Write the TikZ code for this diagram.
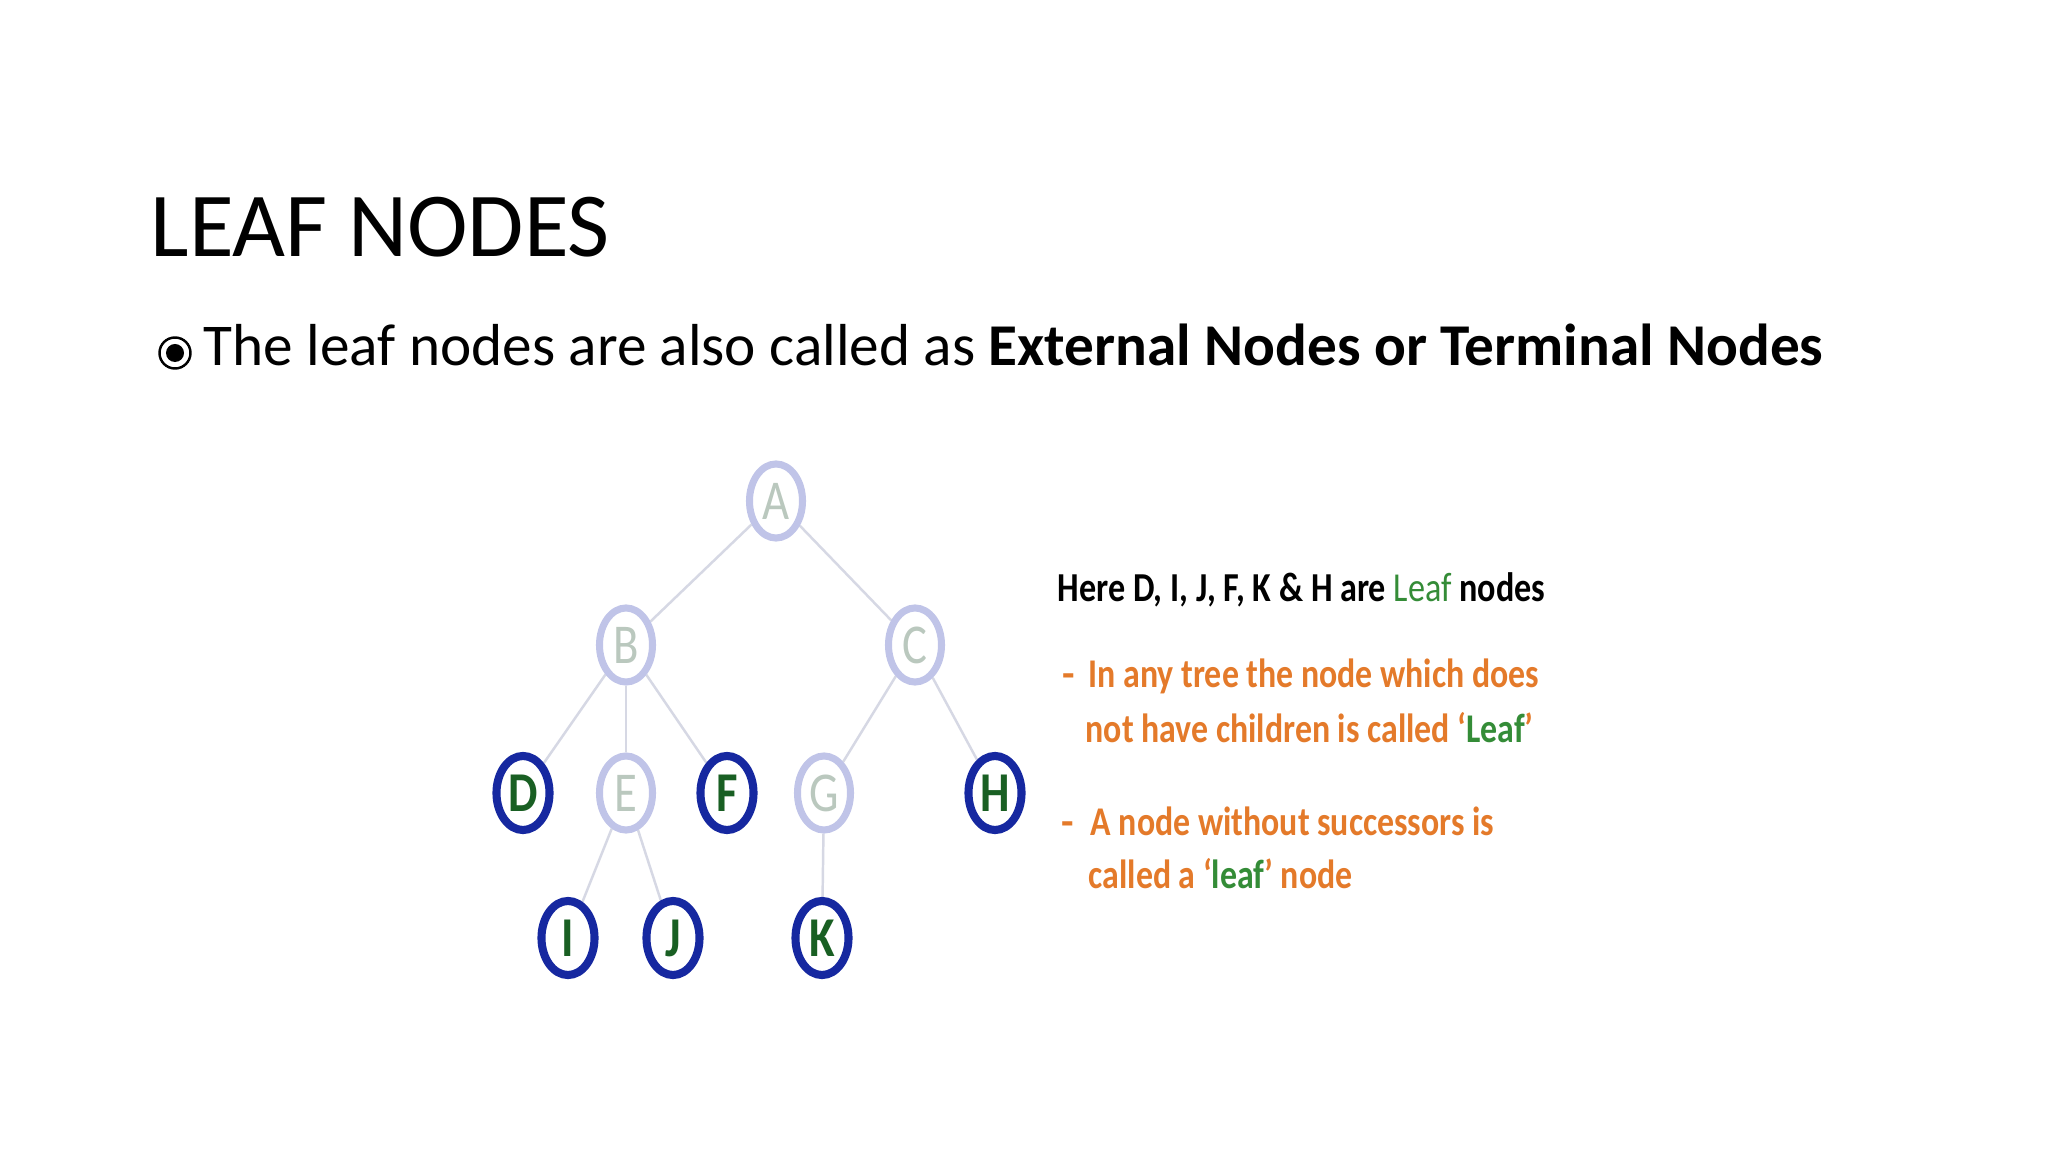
\documentclass[tikz,border=0pt]{standalone}
\usepackage{fontspec}
\setmainfont{Carlito}
\usetikzlibrary{shapes.geometric, positioning, backgrounds}
\definecolor{ringBlue}{RGB}{22, 40, 160}
\definecolor{ringPale}{RGB}{192, 196, 232}
\definecolor{leafGreen}{RGB}{25, 95, 35}
\definecolor{paleText}{RGB}{186, 200, 190}
\definecolor{edgeGray}{RGB}{214, 216, 228}
\definecolor{noteOrange}{RGB}{228, 122, 42}
\definecolor{noteGreen}{RGB}{52, 140, 55}
\newcommand{\squeeze}[1]{\scalebox{0.83}[1]{#1}}

\begin{document}
\begin{tikzpicture}[x=0.01cm, y=-0.01cm,
    treenode/.style={ellipse, draw=ringPale, line width=2pt, fill=white,
      minimum width=0.53cm, minimum height=0.74cm, inner sep=0pt,
      text=paleText, font=\fontsize{16}{16}\selectfont},
    leafnode/.style={treenode, draw=ringBlue, line width=2.3pt,
      text=leafGreen, font=\fontsize{16}{16}\selectfont\bfseries},
    branch/.style={draw=edgeGray, line width=0.7pt},
    note/.style={anchor=base west, inner sep=0pt, text=noteOrange,
      font=\fontsize{11.6}{11.6}\selectfont\bfseries}]
        \useasboundingbox (0,0) rectangle (2048,1152);

        % Title
        \node[anchor=base west, inner sep=0pt, font=\fontsize{26}{26}\selectfont] (title) at (150,257) {LEAF NODES};

        % Bullet line
        \node[circle, draw, line width=0.7pt, minimum size=0.31cm, inner sep=0pt] (mark) at (175,353) {};
        \fill (mark.center) circle (0.09cm);
        \node[anchor=base west, inner sep=0pt, font=\fontsize{16.85}{16.85}\selectfont] (intro) at (203,366)
          {The leaf nodes are also called as \textbf{External Nodes or Terminal Nodes}};

        % Tree
        \node[treenode] (A) at (776,501) {\squeeze{A}};
        \node[treenode] (B) at (626,645) {\squeeze{B}};
        \node[treenode] (C) at (915,645) {\squeeze{C}};
        \node[leafnode] (D) at (523,793) {\squeeze{D}};
        \node[treenode] (E) at (626,793) {\squeeze{E}};
        \node[leafnode] (F) at (727,793) {\squeeze{F}};
        \node[treenode] (G) at (824,793) {\squeeze{G}};
        \node[leafnode] (H) at (995,793) {\squeeze{H}};
        \node[leafnode] (I) at (568,938) {\squeeze{I}};
        \node[leafnode] (J) at (673,938) {\squeeze{J}};
        \node[leafnode] (K) at (822,938) {\squeeze{K}};

        % Branches
        \begin{scope}[on background layer]
          \fill[white] (0,0) rectangle (2048,1152);
          \draw[branch] (A) -- (B);
          \draw[branch] (A) -- (C);
          \draw[branch] (B) -- (D);
          \draw[branch] (B) -- (E);
          \draw[branch] (B) -- (F);
          \draw[branch] (C) -- (G);
          \draw[branch] (C) -- (H);
          \draw[branch] (E) -- (I);
          \draw[branch] (E) -- (J);
          \draw[branch] (G) -- (K);
        \end{scope}

        % Notes
        \node[anchor=base west, inner sep=0pt, font=\fontsize{11.7}{11.7}\selectfont\bfseries] (here) at (1057,602)
          {\squeeze{Here D, I, J, F, K \& H are \textcolor{noteGreen}{\mdseries Leaf} nodes}};

        \node[note] (dashone) at (1062,687) {-};
        \node[note] (lineone) at (1088,687) {\squeeze{In any tree the node which does}};
        \node[note] (linetwo) at (1085,742) {\squeeze{not have children is called `\textcolor{noteGreen}{Leaf}'}};

        \node[note] (dashtwo) at (1061,835) {-};
        \node[note] (linethree) at (1090,835) {\squeeze{A node without successors is}};
        \node[note] (linefour) at (1088,888) {\squeeze{called a `\textcolor{noteGreen}{leaf}' node}};
    \end{tikzpicture}
\end{document}
